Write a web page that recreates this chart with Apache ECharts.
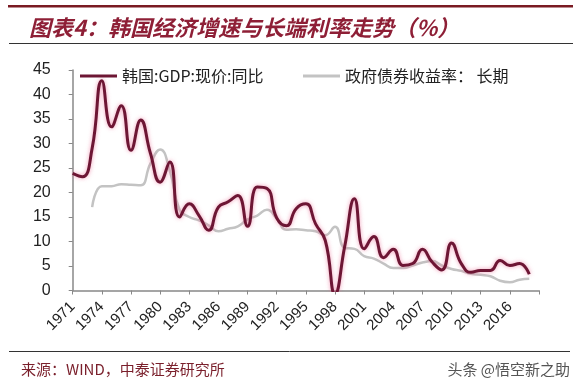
<!DOCTYPE html>
<html>
<head>
<meta charset="utf-8">
<script src="https://cdn.jsdelivr.net/npm/echarts@6/dist/echarts.min.js"></script>
<style>
html,body{margin:0;padding:0;background:#fff;}
#c{width:583px;height:389px;}
</style>
</head>
<body>
<div id="c"></div>
<script>
var years = [];
for (var y = 1971; y <= 2019; y++) years.push(String(y));

var gdpName = '韩国:GDP:现价:同比';
var bondName = '政府债券收益率： 长期';

var gdp = [23.9, 23.2, 29.0, 42.8, 33.4, 37.7, 28.6, 34.8, 28.0, 22.1,
           26.2, 15.0, 17.7, 15.3, 12.3, 17.0, 18.1, 19.4, 13.1, 21.1,
           20.8, 14.8, 13.2, 16.7, 17.7, 13.6, 10.2, -0.7, 9.0, 18.7,
           8.5, 11.0, 6.7, 8.4, 5.1, 5.5, 8.4, 5.8, 4.2, 9.7,
           5.5, 3.7, 4.1, 4.1, 6.1, 5.1, 5.5, 3.3, '-'];

var bond = ['-', '-', 17.0, 21.3, 21.3, 21.7, 21.6, 21.5, 25.9, 28.8,
            24.4, 16.5, 15.0, 14.3, 13.3, 12.1, 12.6, 13.1, 14.5, 15.3,
            16.5, 14.7, 12.4, 12.5, 12.3, 12.1, 11.3, 13.0, 8.7, 8.5,
            7.0, 6.5, 5.5, 4.6, 4.6, 5.1, 5.7, 6.0, 5.1, 4.4,
            4.0, 3.4, 3.2, 2.9, 2.0, 1.7, 2.2, 2.4, '-'];

var yTicks = [0, 5, 10, 15, 20, 25, 30, 35, 40, 45];

var chart = echarts.init(document.getElementById('c'), null, {renderer: 'canvas'});
chart.setOption({
  animation: false,
  backgroundColor: '#ffffff',
  title: {
    text: '图表4：韩国经济增速与长端利率走势（%）',
    left: 24, top: 12,
    textStyle: {
      fontFamily: 'Noto Sans CJK SC',
      fontSize: 22, fontWeight: 'bold', fontStyle: 'italic',
      color: '#8e1f36'
    }
  },
  graphic: [
    {type: 'rect', shape: {x: 8, y: 5, width: 565, height: 2.5}, style: {fill: '#7a1a22'}},
    {type: 'line', shape: {x1: 9, y1: 43.5, x2: 573, y2: 43.5}, style: {stroke: '#333', lineWidth: 1}},
    {type: 'line', shape: {x1: 9, y1: 351.5, x2: 570, y2: 351.5}, style: {stroke: '#333', lineWidth: 1}},
    {type: 'text', left: 21, top: 362, style: {
      text: '来源：WIND，中泰证券研究所', fill: '#7a1f2b',
      font: '15px "Noto Sans CJK SC"'}},
    {type: 'text', right: 13, top: 362, style: {
      text: '头条 @悟空新之助', fill: '#555',
      font: '15px "Noto Sans CJK SC"'}}
  ],
  legend: [
    {
      data: [gdpName], left: 75, top: 63,
      itemWidth: 37, itemHeight: 3, itemGap: 10,
      icon: 'rect',
      textStyle: {fontFamily: 'Noto Sans CJK SC', fontSize: 16, color: '#222'}
    },
    {
      data: [bondName], left: 298, top: 63,
      itemWidth: 37, itemHeight: 3,
      icon: 'rect',
      textStyle: {fontFamily: 'Noto Sans CJK SC', fontSize: 16, color: '#222'}
    }
  ],
  grid: {left: 72.7, right: 44, top: 70, bottom: 98.5, containLabel: false, outerBoundsMode: 'none'},
  xAxis: {
    type: 'category',
    data: years,
    boundaryGap: false,
    axisLine: {lineStyle: {color: '#888', width: 1.5}},
    axisTick: {show: true, length: 4, interval: 2, lineStyle: {color: '#888'}},
    axisLabel: {
      interval: 2, rotate: 45, margin: 14,
      fontFamily: 'Liberation Sans', fontSize: 15, color: '#222',
      hideOverlap: false,
      formatter: function (v) { return v === '2019' ? '' : v; }
    },
    splitLine: {show: false}
  },
  yAxis: {
    type: 'value',
    min: 0, max: 45, interval: 5,
    axisLine: {show: true, lineStyle: {color: '#888', width: 1.5}},
    axisTick: {show: true, length: 4, lineStyle: {color: '#888'}},
    axisLabel: {
      margin: 22, fontFamily: 'Liberation Sans', fontSize: 16, color: '#222',
      formatter: function (v) { return yTicks.indexOf(v) >= 0 ? String(v) : ''; }
    },
    splitLine: {show: false}
  },
  series: [
    {
      name: bondName, type: 'line', data: bond,
      smooth: 0.5, symbol: 'none', connectNulls: false,
      itemStyle: {color: '#c3c3c3'},
      lineStyle: {color: '#c3c3c3', width: 2.5}
    },
    {
      name: gdpName, type: 'line', data: gdp,
      smooth: 0.5, symbol: 'none',
      itemStyle: {color: '#6d1634'},
      lineStyle: {color: '#6d1634', width: 3,
        shadowColor: 'rgba(235,110,150,0.7)', shadowBlur: 4}
    }
  ]
});
</script>
</body>
</html>
